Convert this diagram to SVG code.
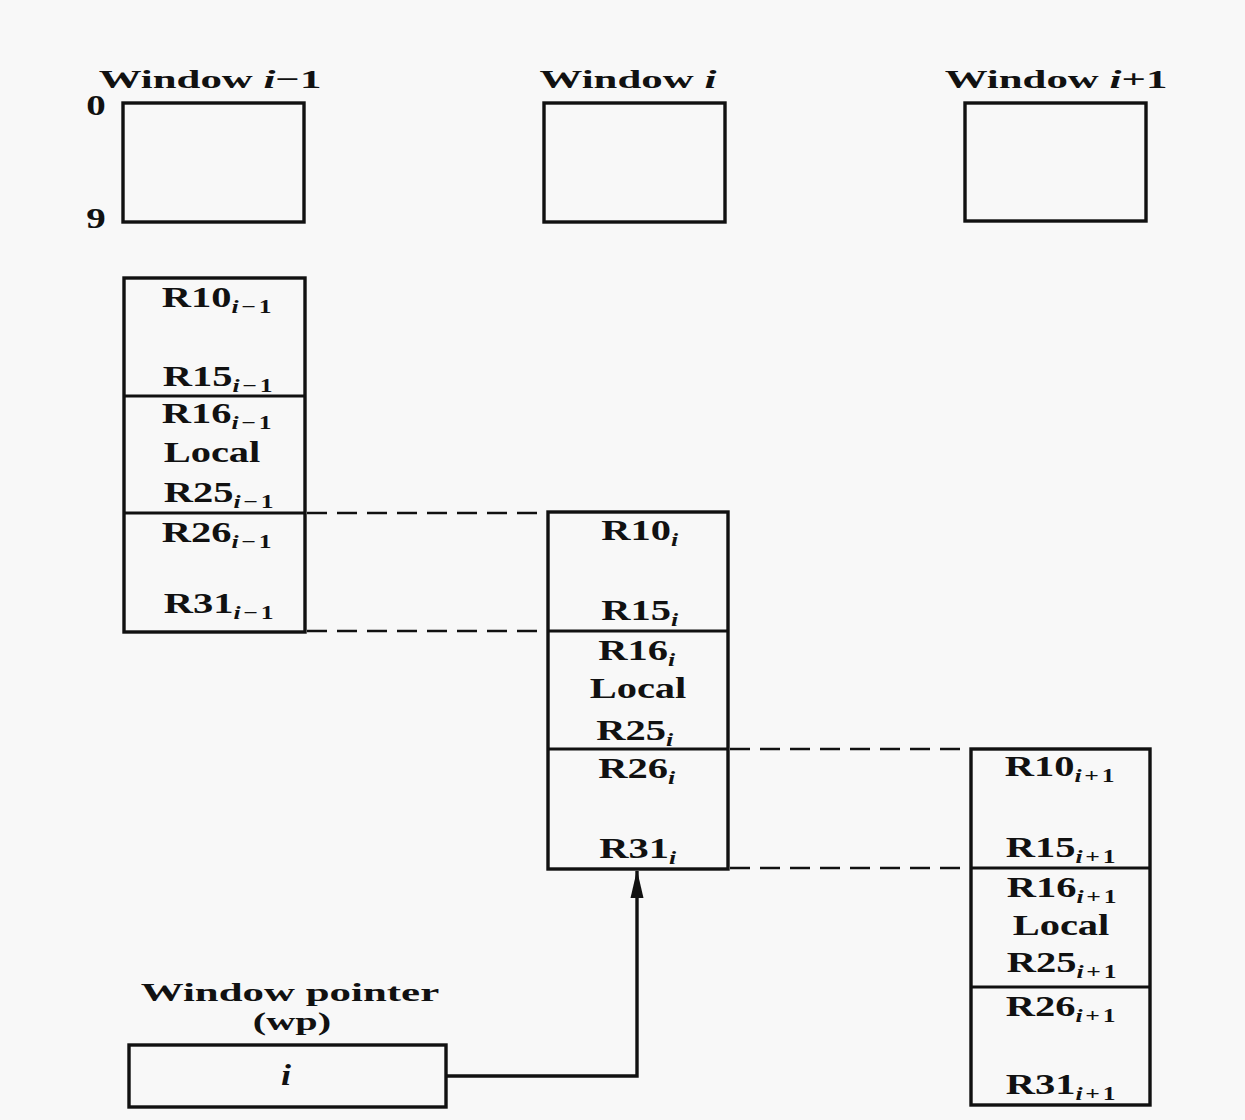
<svg xmlns="http://www.w3.org/2000/svg" width="1245" height="1120" viewBox="0 0 1245 1120">
<style>
.box{fill:none;stroke:#111;stroke-width:3.4}
.div{stroke:#111;stroke-width:3}
.dash{stroke:#111;stroke-width:2.6;stroke-dasharray:20 10;fill:none}
.conn{stroke:#111;stroke-width:3.4;fill:none}
text{font-family:"Liberation Serif","Times New Roman",serif;font-weight:bold;fill:#111}
.r{font-size:30px;text-anchor:middle}
.h{font-size:26px;text-anchor:middle}
.sub{font-size:19px;letter-spacing:2px}
.it{font-style:italic}
</style>
<defs>
<marker id="arr" markerUnits="userSpaceOnUse" markerWidth="28" markerHeight="16" refX="27" refY="8" orient="auto" viewBox="0 0 28 16">
<path d="M28 8 L0 1.5 L0 14.5 Z" fill="#111"/>
</marker>
</defs>
<rect width="1245" height="1120" fill="#f8f8f8"/>

<g id="win-prev">
<text class="h" transform="translate(210,88) scale(1.65,1)">Window <tspan class="it">i</tspan>−1</text>
<text class="r" transform="translate(96,115) scale(1.3,1)">0</text>
<text class="r" transform="translate(96,228) scale(1.3,1)">9</text>
<rect class="box" x="123" y="103" width="181" height="119"/>
</g>
<g id="win-cur">
<text class="h" transform="translate(628,88) scale(1.65,1)">Window <tspan class="it">i</tspan></text>
<rect class="box" x="544" y="103" width="181" height="119"/>
</g>
<g id="win-next">
<text class="h" transform="translate(1056,88) scale(1.65,1)">Window <tspan class="it">i</tspan>+1</text>
<rect class="box" x="965" y="103" width="181" height="118"/>
</g>

<g id="stack-prev">
<rect class="box" x="124" y="278" width="181" height="354"/>
<line class="div" x1="124" y1="396" x2="305" y2="396"/>
<line class="div" x1="124" y1="513" x2="305" y2="513"/>
<text class="r" transform="translate(218,307) scale(1.35,1)">R10<tspan class="sub" dy="6"><tspan class="it">i</tspan>−1</tspan></text>
<text class="r" transform="translate(219,386) scale(1.35,1)">R15<tspan class="sub" dy="6"><tspan class="it">i</tspan>−1</tspan></text>
<text class="r" transform="translate(218,423) scale(1.35,1)">R16<tspan class="sub" dy="6"><tspan class="it">i</tspan>−1</tspan></text>
<text class="r" transform="translate(212,462) scale(1.35,1)">Local</text>
<text class="r" transform="translate(220,502) scale(1.35,1)">R25<tspan class="sub" dy="6"><tspan class="it">i</tspan>−1</tspan></text>
<text class="r" transform="translate(218,542) scale(1.35,1)">R26<tspan class="sub" dy="6"><tspan class="it">i</tspan>−1</tspan></text>
<text class="r" transform="translate(220,613) scale(1.35,1)">R31<tspan class="sub" dy="6"><tspan class="it">i</tspan>−1</tspan></text>
</g>

<g id="stack-cur">
<rect class="box" x="548" y="512" width="180" height="357"/>
<line class="div" x1="548" y1="631" x2="728" y2="631"/>
<line class="div" x1="548" y1="749" x2="728" y2="749"/>
<text class="r" transform="translate(641,540) scale(1.35,1)">R10<tspan class="sub" dy="6"><tspan class="it">i</tspan></tspan></text>
<text class="r" transform="translate(641,620) scale(1.35,1)">R15<tspan class="sub" dy="6"><tspan class="it">i</tspan></tspan></text>
<text class="r" transform="translate(638,660) scale(1.35,1)">R16<tspan class="sub" dy="6"><tspan class="it">i</tspan></tspan></text>
<text class="r" transform="translate(638,698) scale(1.35,1)">Local</text>
<text class="r" transform="translate(636,740) scale(1.35,1)">R25<tspan class="sub" dy="6"><tspan class="it">i</tspan></tspan></text>
<text class="r" transform="translate(638,778) scale(1.35,1)">R26<tspan class="sub" dy="6"><tspan class="it">i</tspan></tspan></text>
<text class="r" transform="translate(639,858) scale(1.35,1)">R31<tspan class="sub" dy="6"><tspan class="it">i</tspan></tspan></text>
</g>

<g id="stack-next">
<rect class="box" x="971" y="749" width="179" height="356"/>
<line class="div" x1="971" y1="868" x2="1150" y2="868"/>
<line class="div" x1="971" y1="987" x2="1150" y2="987"/>
<text class="r" transform="translate(1061,776) scale(1.35,1)">R10<tspan class="sub" dy="6"><tspan class="it">i</tspan>+1</tspan></text>
<text class="r" transform="translate(1062,857) scale(1.35,1)">R15<tspan class="sub" dy="6"><tspan class="it">i</tspan>+1</tspan></text>
<text class="r" transform="translate(1063,897) scale(1.35,1)">R16<tspan class="sub" dy="6"><tspan class="it">i</tspan>+1</tspan></text>
<text class="r" transform="translate(1061,935) scale(1.35,1)">Local</text>
<text class="r" transform="translate(1063,972) scale(1.35,1)">R25<tspan class="sub" dy="6"><tspan class="it">i</tspan>+1</tspan></text>
<text class="r" transform="translate(1062,1016) scale(1.35,1)">R26<tspan class="sub" dy="6"><tspan class="it">i</tspan>+1</tspan></text>
<text class="r" transform="translate(1062,1094) scale(1.35,1)">R31<tspan class="sub" dy="6"><tspan class="it">i</tspan>+1</tspan></text>
</g>

<g id="wp">
<text class="h" transform="translate(290,1001) scale(1.65,1)">Window pointer</text>
<text class="h" transform="translate(292,1030) scale(1.55,1)">(wp)</text>
<rect class="box" x="129" y="1045" width="317" height="62"/>
<text class="r it" transform="translate(286,1085) scale(1.2,1)">i</text>
</g>

<g id="connectors">
<line class="dash" x1="307" y1="513" x2="546" y2="513"/>
<line class="dash" x1="307" y1="631" x2="546" y2="631"/>
<line class="dash" x1="730" y1="749" x2="969" y2="749"/>
<line class="dash" x1="730" y1="868" x2="969" y2="868"/>
<path class="conn" d="M446 1076 H637 V871" marker-end="url(#arr)"/>
</g>
</svg>
